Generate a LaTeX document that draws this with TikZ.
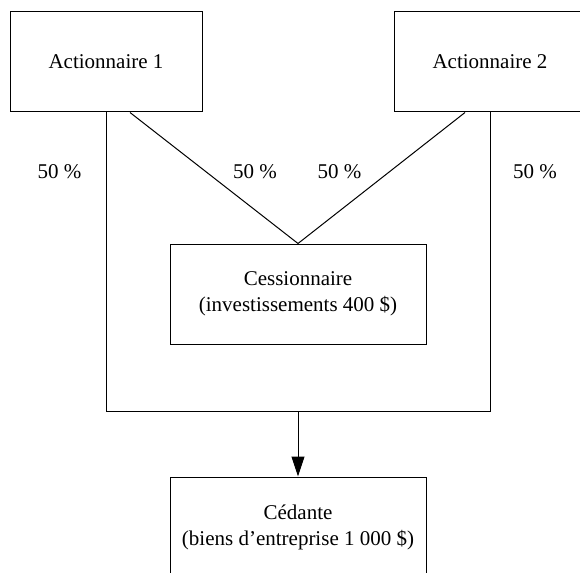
\documentclass[tikz,border=0pt]{standalone}
\usepackage{fontspec}
\setmainfont{Liberation Serif}
\usetikzlibrary{arrows.meta}
\begin{document}
\begin{tikzpicture}[x=1pt,y=-1pt,
  box/.style={draw,line width=1pt,inner sep=0pt,align=center,
    font=\fontsize{21}{26}\selectfont},
  link/.style={line width=1pt},
  pct/.style={font=\fontsize{21}{26}\selectfont,inner sep=0pt}]
  \useasboundingbox (0,0) rectangle (580,572);
  \clip (0,0) rectangle (580,572);
  % shareholders
  \node[box,minimum width=192pt,minimum height=100pt] (a1) at (106,62) {Actionnaire 1};
  \node[box,minimum width=192pt,minimum height=100pt] (a2) at (490,62) {Actionnaire 2};
  % transferee and transferor
  \node[box,minimum width=256pt,minimum height=100pt] (cess) at (298,294)
    {Cessionnaire\\(investissements 400 \$)};
  \node[box,minimum width=256pt,minimum height=100pt] (ced) at (298,527)
    {Cédante\\(biens d’entreprise 1 000 \$)};
  % junction points
  \coordinate (j1) at (106,411);
  \coordinate (j2) at (490,411);
  \coordinate (jm) at (ced.north |- j1);
  % ownership lines
  \draw[link] (a1.south) -- (j1) -- (j2) -- (a2.south);
  \draw[link] (a1.south) ++(24,0) coordinate (d1) -- (cess.north);
  \draw[link] (a2.south) ++(-25,0) coordinate (d2) -- (cess.north);
  \draw[link,-{Triangle[length=20pt,width=13pt]}] (jm) -- (ced.north);
  % percentages
  \node[pct] (p1) at (59.5,172) {50 \%};
  \node[pct] (p2) at (255,172) {50 \%};
  \node[pct] (p3) at (339.5,172) {50 \%};
  \node[pct] (p4) at (535,172) {50 \%};
\end{tikzpicture}
\end{document}
